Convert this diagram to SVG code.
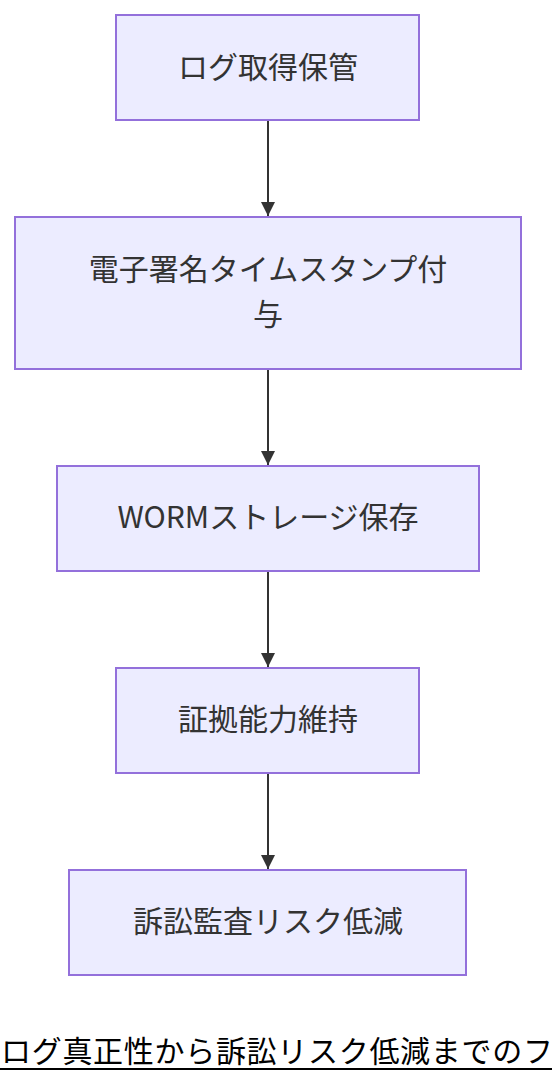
<svg xmlns="http://www.w3.org/2000/svg" width="552" height="1084" viewBox="0 0 552 1084">
<defs>
<style>
.box{fill:#ECECFF;stroke:#9370DB;stroke-width:2}
.lbl{font-family:"Noto Sans CJK JP","Noto Sans",sans-serif;font-size:30px;fill:#333;text-anchor:middle;dominant-baseline:central}
.edge{stroke:#333;stroke-width:2;fill:none}
.title{font-family:"Noto Sans CJK JP","Noto Sans",sans-serif;font-size:30px;letter-spacing:0.7px;fill:#000}
</style>
<marker id="arr" viewBox="0 0 10 10" refX="10" refY="5" markerWidth="14" markerHeight="14" markerUnits="userSpaceOnUse" orient="auto">
<path d="M0,0 L10,5 L0,10 z" fill="#333"/>
</marker>
</defs>
<rect width="552" height="1084" fill="#fff"/>
<g id="edges">
<line class="edge" x1="268" y1="121" x2="268" y2="216" marker-end="url(#arr)"/>
<line class="edge" x1="268" y1="370" x2="268" y2="465" marker-end="url(#arr)"/>
<line class="edge" x1="268" y1="572" x2="268" y2="667" marker-end="url(#arr)"/>
<line class="edge" x1="268" y1="774" x2="268" y2="869" marker-end="url(#arr)"/>
</g>
<g id="n1"><rect class="box" x="116" y="15" width="303" height="105"/><text class="lbl" x="268" y="65">ログ取得保管</text></g>
<g id="n2"><rect class="box" x="15" y="217" width="506" height="152"/><text class="lbl" x="268" y="267">電子署名タイムスタンプ付</text><text class="lbl" x="268" y="312">与</text></g>
<g id="n3"><rect class="box" x="57" y="466" width="422" height="105"/><text class="lbl" x="268" y="515">WORMストレージ保存</text></g>
<g id="n4"><rect class="box" x="116" y="668" width="303" height="105"/><text class="lbl" x="268" y="717">証拠能力維持</text></g>
<g id="n5"><rect class="box" x="69" y="870" width="397" height="105"/><text class="lbl" x="268" y="919">訴訟監査リスク低減</text></g>
<g id="title"><text class="title" x="1" y="1062">ログ真正性から訴訟リスク低減までのフロー</text><line x1="0" y1="1069" x2="552" y2="1069" stroke="#000" stroke-width="2"/></g>
</svg>
